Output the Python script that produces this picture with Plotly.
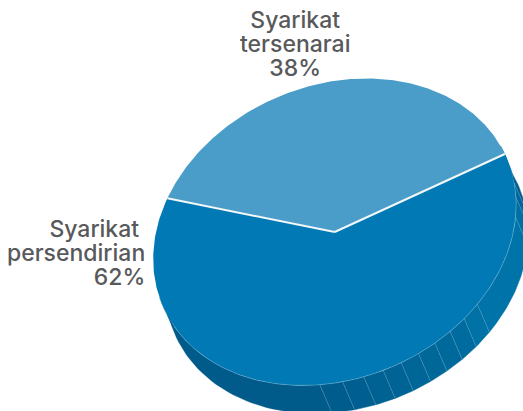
import numpy as np
import plotly.graph_objects as go

categories = ["Syarikat persendirian", "Syarikat tersenarai"]
shares = [62, 38]
slice_colors = ["#0079b4", "#4a9dc8"]
label_lines = [["Syarikat ", "persendirian", "62%"], ["Syarikat", "tersenarai", "38%"]]

# facet boundaries of the pie's rim, in degrees round the pie, with their shades
rim_edges = [165, 94.7, 87.5, 80.8, 74.5, 68.5, 62.5, 56.5, 50.5, 44.5, 38.2, 4.6, -3, -8.6, -24]
rim_shades = ["#005a8a", "#005c8d", "#005f90", "#006193", "#006395", "#006597", "#006799", "#00699b",
              "#006b9e", "#0072a6", "#0074a8", "#006fa3", "#00669a", "#005f92"]

W, H = 523, 411
cx, cy = 334.7, 232.0
ax_x, ax_yx, ax_yy = 181.5, -27.0, 151.1
depth = (12.0, 28.0)
start = -157.2  # where the listed slice starts, going anticlockwise on screen


def ring(deg):
    t = np.radians(np.asarray(deg, dtype=float))
    return cx + ax_x * np.cos(t), cy + ax_yx * np.cos(t) + ax_yy * np.sin(t)


fig = go.Figure()

# rim facets
for a, b, col in zip(rim_edges[:-1], rim_edges[1:], rim_shades):
    d = np.linspace(a, b, 40)
    x, y = ring(d)
    fig.add_trace(go.Scatter(
        x=np.r_[x, x[::-1] + depth[0]], y=np.r_[y, y[::-1] + depth[1]],
        mode="lines", fill="toself", fillcolor=col, line=dict(width=0.4, color=col), hoverinfo="skip"))

# facet lines
for a in rim_edges[1:-1]:
    x, y = ring([a])
    fig.add_trace(go.Scatter(
        x=[x[0], x[0] + depth[0]], y=[y[0], y[0] + depth[1]], mode="lines",
        line=dict(width=0.5, color="rgba(190,220,235,0.35)"), hoverinfo="skip"))

# top slices
share_deg = np.asarray(shares) / sum(shares) * 360
a0 = start + share_deg[1]
a1 = a0 + share_deg[0]
arc_big = np.linspace(a0, a1, 240)
arc_small = np.linspace(start, a0, 160)
for arc, col in ((arc_big, slice_colors[0]), (arc_small, slice_colors[1])):
    x, y = ring(arc)
    fig.add_trace(go.Scatter(
        x=np.r_[cx, x, cx], y=np.r_[cy, y, cy], mode="lines", fill="toself",
        fillcolor=col, line=dict(width=0), hoverinfo="skip"))

# light rim line on the lit front edge
x, y = ring(np.linspace(152, -8.6, 200))
fig.add_trace(go.Scatter(x=x, y=y, mode="lines", line=dict(width=0.6, color="rgba(170,210,230,0.6)"),
                         hoverinfo="skip"))

# white separators
for a in (start, a0):
    x, y = ring([a])
    fig.add_trace(go.Scatter(x=[cx, x[0]], y=[cy, y[0]], mode="lines",
                             line=dict(width=2, color="#f2f7fa"), hoverinfo="skip"))

# labels: one text per slice, drawn with the reference's tight line spacing
font = dict(family="Inter, Liberation Sans, sans-serif", size=23, color="#58595b", weight=500)
anchors = [(146, "right", 214), (295, "center", 5)]
for lines, (ax, align, y0) in zip(label_lines, anchors):
    fig.add_annotation(x=ax, y=y0, text="<br>".join(lines), showarrow=False, xanchor=align, align=align,
                       yanchor="top", font=font, xref="x", yref="y", borderpad=0)

fig.update_layout(
    width=W, height=H, margin=dict(l=0, r=0, t=0, b=0), showlegend=False,
    paper_bgcolor="white", plot_bgcolor="white",
    xaxis=dict(range=[0, W], visible=False),
    yaxis=dict(range=[H, 0], visible=False),
)
tighten = """
document.body.style.margin='0';document.body.style.overflow='hidden';
document.querySelectorAll('.annotation-text tspan.line').forEach(function(t){
  var n = parseFloat(t.getAttribute('dy')) / 1.3;
  t.setAttribute('dy', (n * 24 / 23) + 'em');
});
"""
fig.write_html("out.html", config={"displayModeBar": False}, post_script=tighten)
